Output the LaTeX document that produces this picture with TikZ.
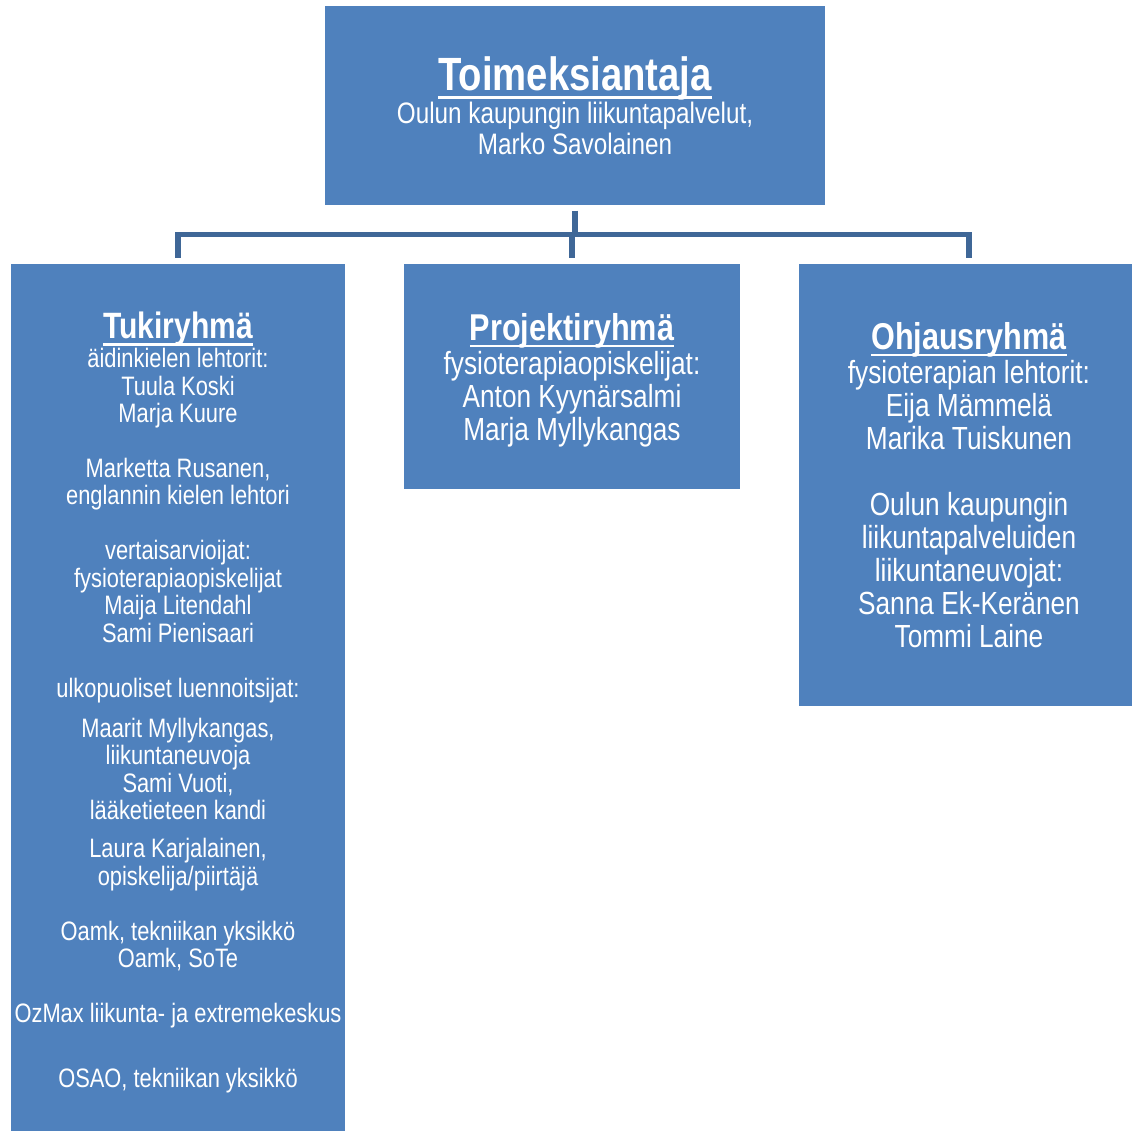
\documentclass[tikz,border=0pt]{standalone}
\usepackage{fontspec}
\setmainfont[FakeStretch=0.82]{Liberation Sans}
\usetikzlibrary{positioning}
\definecolor{boxblue}{HTML}{4F81BD}
\definecolor{linkblue}{HTML}{3F6797}
\tikzset{box/.style = {fill = boxblue, text = white, align = center, inner sep = 0},
  link/.style = {draw = linkblue, line width = 4.1pt, line join = miter}}
\newcommand{\grouptitle}[2]{{\fontsize{#1}{#1}\bfseries\setbox0\hbox{#2}\rlap{\raisebox{-0.19em}{\rule{\wd0}{0.065em}}}\box0}}

\begin{document}
\begin{tikzpicture}[x = 0.75pt, y = -0.75pt]
    \useasboundingbox (0, 0) rectangle (1131, 1131);

    \node [box, minimum width = 500*0.75pt, minimum height = 199*0.75pt, font = \fontsize{22.2}{23.25}\selectfont] (client) at (575, 105.5)
      {\grouptitle{35}{Toimeksiantaja}\\[0.5pt] Oulun kaupungin liikuntapalvelut,\\ Marko Savolainen};

    % the lower boxes run on past the right and bottom edges
    \node [box, minimum width = 334*0.75pt, minimum height = 877*0.75pt, font = \fontsize{20}{20.6}\selectfont] (support) at (178, 702.5)
      {\grouptitle{27.5}{Tukiryhmä}\\[1pt] äidinkielen lehtorit:\\ Tuula Koski\\ Marja Kuure\\[20.6pt]
       Marketta Rusanen,\\ englannin kielen lehtori\\[20.6pt]
       vertaisarvioijat:\\ fysioterapiaopiskelijat\\ Maija Litendahl\\ Sami Pienisaari\\[20.6pt]
       ulkopuoliset luennoitsijat:\\[9.4pt]
       Maarit Myllykangas,\\ liikuntaneuvoja\\ Sami Vuoti,\\ lääketieteen kandi\\[8pt]
       Laura Karjalainen,\\ opiskelija/piirtäjä\\[20.6pt]
       Oamk, tekniikan yksikkö\\ Oamk, SoTe\\[20.6pt]
       OzMax liikunta- ja extremekeskus\\[28pt]
       OSAO, tekniikan yksikkö};

    \node [box, minimum width = 336*0.75pt, minimum height = 225*0.75pt, font = \fontsize{24}{24.75}\selectfont] (project) at (572, 376.5)
      {\rule{0pt}{26pt}\grouptitle{28}{Projektiryhmä}\\[1pt] fysioterapiaopiskelijat:\\ Anton Kyynärsalmi\\ Marja Myllykangas};

    \node [box, minimum width = 340*0.75pt, minimum height = 442*0.75pt, font = \fontsize{24}{24.75}\selectfont] (steering) at (969, 485)
      {\grouptitle{28}{Ohjausryhmä}\\[1pt] fysioterapian lehtorit:\\ Eija Mämmelä\\ Marika Tuiskunen\\[24.75pt]
       Oulun kaupungin\\ liikuntapalveluiden\\ liikuntaneuvojat:\\ Sanna Ek-Keränen\\ Tommi Laine};

    \coordinate (bus) at (575, 234.5);
    \draw [link] ([yshift = -4pt] client.south) -- (client.south |- bus);
    \draw [link] ([yshift = 4.5pt] support.north) -- (support.north |- bus) -- (steering.north |- bus) -- ([yshift = 4.5pt] steering.north);
    \draw [link] (project.north |- bus) -- ([yshift = 4.5pt] project.north);
  \end{tikzpicture}
\end{document}
